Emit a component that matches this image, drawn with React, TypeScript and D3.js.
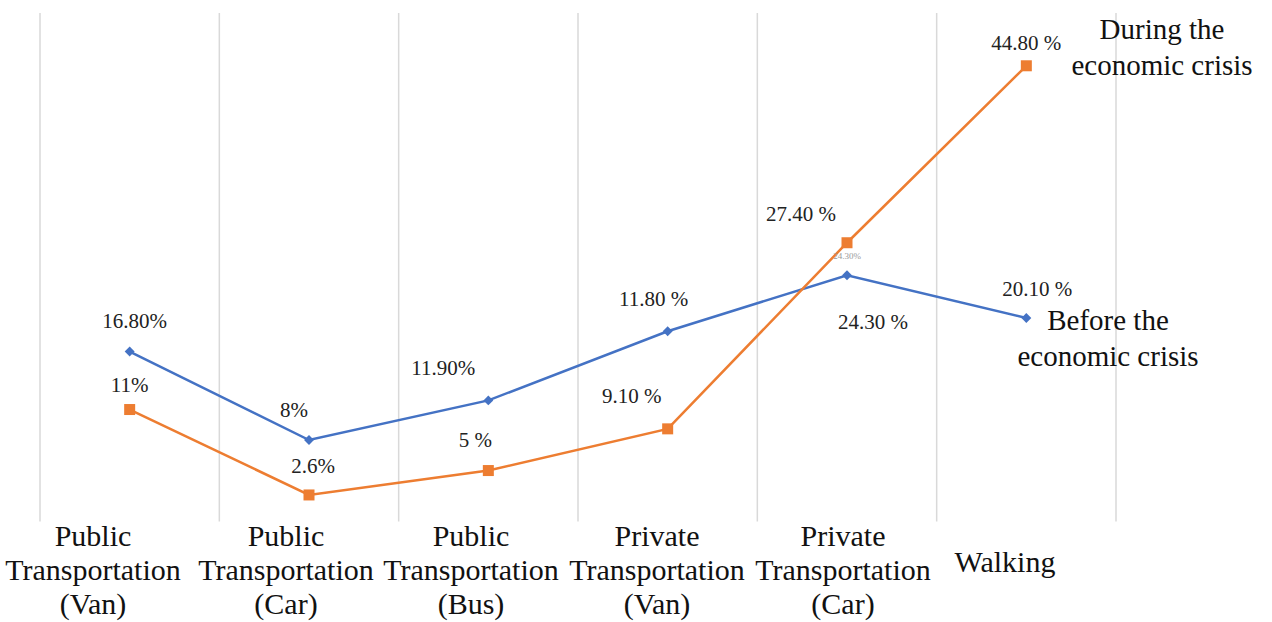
import React from "react";
import * as d3 from "d3";

const categories = [
  "Public Transportation (Van)",
  "Public Transportation (Car)",
  "Public Transportation (Bus)",
  "Private Transportation (Van)",
  "Private Transportation (Car)",
  "Walking",
];
const categoryLines = [
  ["Public", "Transportation", "(Van)"],
  ["Public", "Transportation", "(Car)"],
  ["Public", "Transportation", "(Bus)"],
  ["Private", "Transportation", "(Van)"],
  ["Private", "Transportation", "(Car)"],
  ["Walking"],
];
// plotted positions
const beforeValues = [16.7, 8.0, 11.9, 18.7, 24.2, 20.0];
const duringValues = [11.0, 2.6, 5.0, 9.1, 27.4, 44.8];
// printed labels
const beforeLabels = ["16.80%", "8%", "11.90%", "11.80 %", "24.30 %", "20.10 %"];
const duringLabels = ["11%", "2.6%", "5 %", "9.10 %", "27.40 %", "44.80 %"];
const seriesNames = [
  ["Before the", "economic crisis"],
  ["During the", "economic crisis"],
];

const W = 1272;
const H = 622;
const FONT = "Liberation Serif";
const BLUE = "#4472C4";
const ORANGE = "#ED7D31";

export default function App() {
  const x = d3.scaleBand<string>().domain(categories).range([40, 1116]).padding(0);
  const y = d3.scaleLinear().domain([0, 50]).range([521.4, 12.9]);
  const cx = (i: number) => (x(categories[i]) as number) + x.bandwidth() / 2;
  const gridXs = [...categories.map((c) => x(c) as number), 1116];

  const line = d3
    .line<number>()
    .x((_, i) => cx(i))
    .y((d) => y(d));

  const beforeOff = [
    [5, -24],
    [-15, -23],
    [-45, -25],
    [-14, -25],
    [26, 54],
    [11, -22],
  ];
  const duringOff = [
    [0, -18],
    [4, -22],
    [-13, -24],
    [-36, -26],
    [-46, -22],
    [0, -16],
  ];
  const catLabelX = [93, 286, 471, 657, 843, 1005];
  const d = (v: number) => y(v);
  const ts = { fontFamily: FONT };

  return (
    <svg
      width={W}
      height={H}
      style={{ position: "absolute", left: 0, top: 0, background: "#fff" }}
    >
      <rect width={W} height={H} fill="#fff" />
      {gridXs.map((gx, i) => (
        <line key={i} x1={gx} x2={gx} y1={y(50)} y2={y(0)} stroke="#d9d9d9" strokeWidth={1.5} />
      ))}
      <path d={line(beforeValues) || ""} fill="none" stroke={BLUE} strokeWidth={2.5} />
      <path d={line(duringValues) || ""} fill="none" stroke={ORANGE} strokeWidth={2.5} />
      {beforeValues.map((v, i) => (
        <rect
          key={"b" + i}
          x={-3.5}
          y={-3.5}
          width={7}
          height={7}
          transform={`translate(${cx(i)},${d(v)}) rotate(45)`}
          fill={BLUE}
        />
      ))}
      {duringValues.map((v, i) => (
        <rect key={"o" + i} x={cx(i) - 5.5} y={d(v) - 5.5} width={11} height={11} fill={ORANGE} />
      ))}
      {beforeLabels.map((t, i) => (
        <text
          key={"bl" + i}
          x={cx(i) + beforeOff[i][0]}
          y={d(beforeValues[i]) + beforeOff[i][1]}
          textAnchor="middle"
          fontSize={21}
          fill="#222"
          style={ts}
        >
          {t}
        </text>
      ))}
      {duringLabels.map((t, i) => (
        <text
          key={"dl" + i}
          x={cx(i) + duringOff[i][0]}
          y={d(duringValues[i]) + duringOff[i][1]}
          textAnchor="middle"
          fontSize={21}
          fill="#222"
          style={ts}
        >
          {t}
        </text>
      ))}
      <text x={cx(4)} y={d(beforeValues[4]) - 16} textAnchor="middle" fontSize={9} fill="#999" style={ts}>
        24.30%
      </text>
      {seriesNames[0].map((t, j) => (
        <text key={"sn0" + j} x={1108} y={330 + j * 36} textAnchor="middle" fontSize={29} fill="#111" style={ts}>
          {t}
        </text>
      ))}
      {seriesNames[1].map((t, j) => (
        <text key={"sn1" + j} x={1162} y={39 + j * 36} textAnchor="middle" fontSize={29} fill="#111" style={ts}>
          {t}
        </text>
      ))}
      {categoryLines.map((lines, i) =>
        lines.map((t, j) => (
          <text
            key={"c" + i + j}
            x={catLabelX[i]}
            y={lines.length === 1 ? 572 : 546 + j * 34}
            textAnchor="middle"
            fontSize={30}
            fill="#111"
            style={ts}
          >
            {t}
          </text>
        ))
      )}
    </svg>
  );
}
